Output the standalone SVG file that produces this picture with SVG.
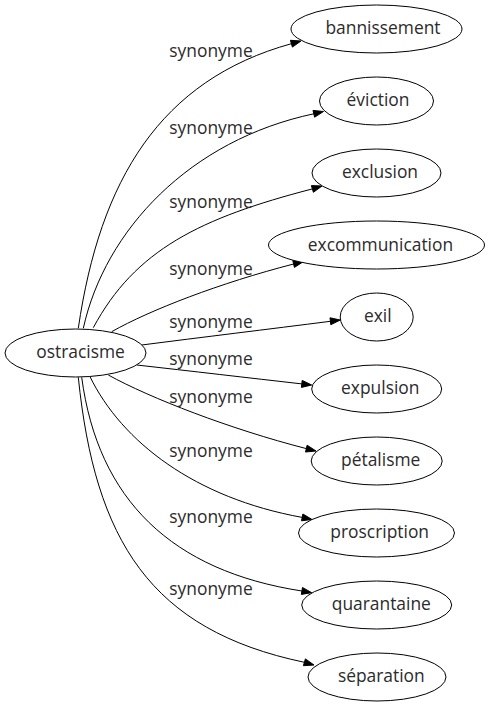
<svg xmlns="http://www.w3.org/2000/svg" width="489" height="707" viewBox="0 0 489 707">
<style>
.node ellipse{fill:#fff;stroke:#000;stroke-width:1}
.node text,.lbl{font-family:"Open Sans","Noto Sans","DejaVu Sans",sans-serif;font-size:17.4px;fill:#2b2b2b;text-anchor:middle}
.edge path{fill:none;stroke:#000;stroke-width:1}
.edge polygon{fill:#000;stroke:#000;stroke-width:1}
</style>
<rect width="489" height="707" fill="#fff"/>
<g id="connectors">
<g class="edge" id="e1"><path d="M78.3,328.3 C100,180 160,80 291.4,43.7"/><polygon points="301,41 292.4,47.1 290.4,40.3"/><text class="lbl" x="211" y="57">synonyme</text></g>
<g class="edge" id="e2"><path d="M83.3,328.3 C105,230 190,140 313.8,113.8"/><polygon points="323.5,111.5 314.6,117.2 313,110.4"/><text class="lbl" x="211" y="134">synonyme</text></g>
<g class="edge" id="e3"><path d="M93.3,327.7 C135,250 200,218 312.4,188.9"/><polygon points="322,186 313.4,192.3 311.4,185.6"/><text class="lbl" x="211" y="208">synonyme</text></g>
<g class="edge" id="e4"><path d="M111.7,331.7 C150,310 220,283 293.6,264"/><polygon points="303.3,261.7 294.4,267.4 292.8,260.6"/><text class="lbl" x="211" y="275">synonyme</text></g>
<g class="edge" id="e5"><path d="M141.7,345 C200,337.5 270,329 330.4,321.3"/><polygon points="340.3,320 330.8,324.7 330,317.8"/><text class="lbl" x="211" y="328">synonyme</text></g>
<g class="edge" id="e6"><path d="M136.7,365 C190,371 250,378 301.8,383.9"/><polygon points="311.7,385 301.4,387.4 302.2,380.4"/><text class="lbl" x="211" y="365">synonyme</text></g>
<g class="edge" id="e7"><path d="M108.3,375 C150,398 230,429 306.3,448.6"/><polygon points="316,451 305.5,452 307.1,445.2"/><text class="lbl" x="211" y="403">synonyme</text></g>
<g class="edge" id="e8"><path d="M90,376.7 C122,442 195,498 302.2,517.4"/><polygon points="312,519.5 301.5,520.8 302.9,514"/><text class="lbl" x="211" y="457">synonyme</text></g>
<g class="edge" id="e9"><path d="M81.7,377.3 C98,500 172,571 301.9,591"/><polygon points="311.7,592.7 301.3,594.4 302.5,587.5"/><text class="lbl" x="211" y="523">synonyme</text></g>
<g class="edge" id="e10"><path d="M78.3,377.3 C95,540 150,630 304.4,662.3"/><polygon points="314,665 303.4,665.7 305.4,658.9"/><text class="lbl" x="211" y="595">synonyme</text></g>
</g>
<g class="node" id="n-ostracisme"><ellipse cx="75.5" cy="353" rx="70.5" ry="24"/><text x="80.5" y="358">ostracisme</text></g>
<g class="node" id="n-bannissement"><ellipse cx="376.5" cy="29" rx="85.5" ry="24"/><text x="383" y="34">bannissement</text></g>
<g class="node" id="n-eviction"><ellipse cx="376.5" cy="101" rx="57" ry="24"/><text x="378" y="106">éviction</text></g>
<g class="node" id="n-exclusion"><ellipse cx="376.5" cy="173" rx="64.5" ry="24"/><text x="380" y="178">exclusion</text></g>
<g class="node" id="n-excommunication"><ellipse cx="376.5" cy="245" rx="108" ry="24"/><text x="380.5" y="250.5">excommunication</text></g>
<g class="node" id="n-exil"><ellipse cx="376.7" cy="317" rx="36.5" ry="24"/><text x="377.8" y="322">exil</text></g>
<g class="node" id="n-expulsion"><ellipse cx="376.7" cy="389" rx="65" ry="24"/><text x="380.3" y="394">expulsion</text></g>
<g class="node" id="n-petalisme"><ellipse cx="376.7" cy="461" rx="65.5" ry="24"/><text x="380.7" y="466">pétalisme</text></g>
<g class="node" id="n-proscription"><ellipse cx="376.5" cy="533" rx="78" ry="24"/><text x="379.7" y="538">proscription</text></g>
<g class="node" id="n-quarantaine"><ellipse cx="376.7" cy="605" rx="75" ry="24"/><text x="381.3" y="610">quarantaine</text></g>
<g class="node" id="n-separation"><ellipse cx="377" cy="677" rx="69" ry="24"/><text x="381.3" y="682">séparation</text></g>
</svg>
